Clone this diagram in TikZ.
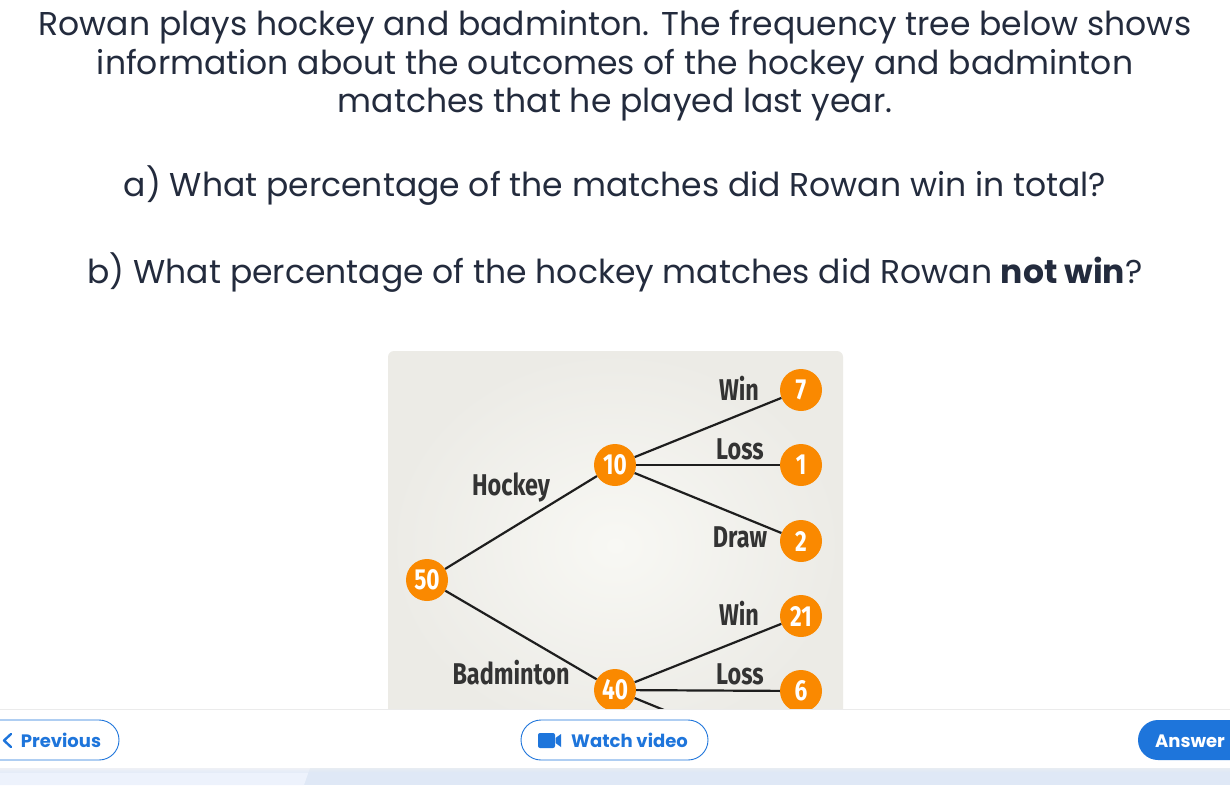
\documentclass[tikz,border=0pt]{standalone}
\usepackage{fontspec}
\setmainfont{Poppins}
\newfontfamily\qfont{Poppins}
\newfontfamily\tfont[FakeStretch=0.78]{Fira Sans}
\newfontfamily\bfont{Poppins}
\definecolor{ink}{HTML}{232B3D}
\definecolor{orng}{HTML}{FA8900}
\definecolor{treeink}{HTML}{333333}
\definecolor{linec}{HTML}{1E1E1E}
\definecolor{btnblue}{HTML}{1E75DB}
\definecolor{panelout}{HTML}{ECEBE6}
\definecolor{panelin}{HTML}{F8F8F4}
\definecolor{bandA}{HTML}{EDF2FC}
\definecolor{bandB}{HTML}{DFE8F6}
\usetikzlibrary{shadings}
\begin{document}
\begin{tikzpicture}[x=1pt,y=-1pt,
  qline/.style={anchor=base, text=ink, font=\qfont\fontsize{33}{38}\selectfont},
  numc/.style={circle, fill=orng, minimum size=42pt, inner sep=0pt, text=white,
    font=\tfont\bfseries\fontsize{29}{30}\selectfont},
  lab/.style={anchor=base, text=treeink, font=\tfont\bfseries\fontsize{30}{32}\selectfont},
  branch/.style={draw=linec, line width=2.2pt},
  pill/.style={draw=btnblue, line width=0.9pt, fill=white, rounded corners=20pt},
  btntext/.style={anchor=base, text=btnblue, font=\bfont\bfseries\fontsize{18}{20}\selectfont}
]
\useasboundingbox (0,0) rectangle (1230,785);
\fill[white] (0,0) rectangle (1230,785);

% question text
\node[qline] (t1) at (615,35) {Rowan plays hockey and badminton. The frequency tree below shows};
\node[qline] (t2) at (615,74) {information about the outcomes of the hockey and badminton};
\node[qline] (t3) at (615,112) {matches that he played last year.};
\node[qline] (qa) at (615,196) {a) What percentage of the matches did Rowan win in total?};
\node[qline] (qb) at (615,283) {b) What percentage of the hockey matches did Rowan \textbf{not win}?};

% panel
\shade[inner color=panelin, outer color=panelout, rounded corners=6pt]
  (388,351) rectangle (843,740);

% tree
\node[numc] (n50) at (427,580) {50};
\node[numc] (n10) at (615,465) {10};
\node[numc] (n40) at (615,690) {40};
\node[numc] (w7)  at (801,390) {7};
\node[numc] (l1)  at (801,465) {1};
\node[numc] (d2)  at (801,541) {2};
\node[numc] (w21) at (801,616) {21};
\node[numc] (l6)  at (801,691) {6};
\coordinate (d3) at (801,766);

\draw[branch] (n50) -- (n10);
\draw[branch] (n50) -- (n40);
\draw[branch] (n10) -- (w7);
\draw[branch] (n10) -- (l1);
\draw[branch] (n10) -- (d2);
\draw[branch] (n40) -- (w21);
\draw[branch] (n40) -- (l6);
\draw[branch] (n40) -- (d3);

\node[lab] (lh) at (511,495) {Hockey};
\node[lab] (lb) at (511,684) {Badminton};
\node[lab] (lw1) at (739,400) {Win};
\node[lab] (ll1) at (740,459) {Loss};
\node[lab] (ld1) at (740,547) {Draw};
\node[lab] (lw2) at (739,625) {Win};
\node[lab] (ll2) at (740,684) {Loss};

% footer
\fill[white] (0,709) rectangle (1230,768);
\draw[draw=black!8, line width=0.8pt] (0,709.5) -- (1230,709.5);
\fill[bandB] (0,768) rectangle (1230,785);
\fill[bandA] (0,768) -- (310,768) -- (304,785) -- (0,785) -- cycle;
\shade[top color=black!6, bottom color=bandB, opacity=0.5] (0,768) rectangle (1230,772);

% buttons
\draw[pill] (-30,720) rectangle (119,760);
\draw[btnblue, line width=2.4pt, line cap=round, line join=round] (11,734) -- (4,740.5) -- (11,747);
\node[btntext] (bprev) at (61,747) {Previous};

\draw[pill] (521,720) rectangle (708,760);
\fill[btnblue, rounded corners=2pt] (538,733) rectangle (555,748);
\fill[btnblue] (555.5,738) -- (561,734) -- (561,747) -- (555.5,743) -- cycle;
\node[btntext] (bvid) at (629.5,747) {Watch video};

\fill[btnblue, rounded corners=20pt] (1138,720) rectangle (1270,760);
\node[btntext, text=white] (bans) at (1190,747) {Answer};
\end{tikzpicture}
\end{document}
